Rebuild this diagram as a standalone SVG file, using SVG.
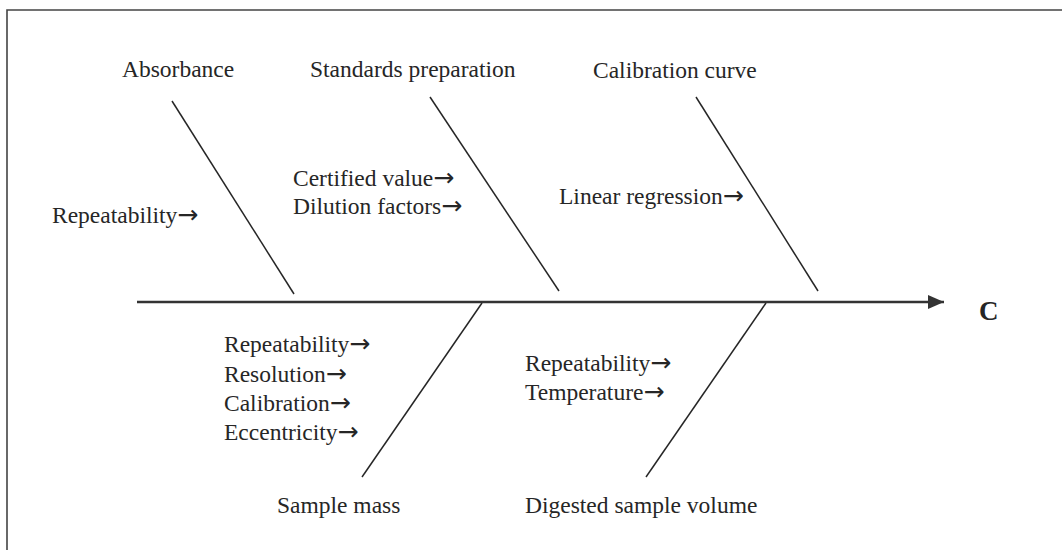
<svg xmlns="http://www.w3.org/2000/svg" width="1062" height="550" viewBox="0 0 1062 550">
<style>
text{font-family:"Liberation Serif","Times New Roman",serif;font-size:23.5px;fill:#262626}
tspan.ar{font-family:"DejaVu Sans",sans-serif;font-size:25px}
.bone{stroke:#262626;stroke-width:1.5;fill:none}
.spine{stroke:#333;stroke-width:2.6;fill:none}
.frame{stroke:#444;stroke-width:1.6;fill:none}
.eff{font-weight:bold;font-size:27px}
</style>
<defs>
<marker id="ah" markerUnits="userSpaceOnUse" markerWidth="18" markerHeight="14" refX="16" refY="7" orient="auto">
<path d="M0,0 L16,7 L0,14 Z" fill="#333"/>
</marker>
</defs>
<rect width="1062" height="550" fill="#fff"/>
<path class="frame" d="M7,550 V10 H1062"/>
<g id="connectors">
<line class="spine" x1="137" y1="302" x2="944" y2="302" marker-end="url(#ah)"/>
<line class="bone" x1="172" y1="101" x2="294" y2="294"/>
<line class="bone" x1="430" y1="97" x2="559" y2="291"/>
<line class="bone" x1="696" y1="97" x2="818" y2="291"/>
<line class="bone" x1="482" y1="303" x2="362" y2="477"/>
<line class="bone" x1="766" y1="303" x2="646" y2="477"/>
</g>
<g id="absorbance">
<text x="122" y="77">Absorbance</text>
<text x="52" y="223">Repeatability<tspan class="ar">→</tspan></text>
</g>
<g id="standards">
<text x="310" y="77">Standards preparation</text>
<text x="293" y="186">Certified value<tspan class="ar">→</tspan></text>
<text x="293" y="214">Dilution factors<tspan class="ar">→</tspan></text>
</g>
<g id="calibration">
<text x="593" y="78">Calibration curve</text>
<text x="559" y="204">Linear regression<tspan class="ar">→</tspan></text>
</g>
<g id="samplemass">
<text x="224" y="352">Repeatability<tspan class="ar">→</tspan></text>
<text x="224" y="382">Resolution<tspan class="ar">→</tspan></text>
<text x="224" y="411">Calibration<tspan class="ar">→</tspan></text>
<text x="224" y="440">Eccentricity<tspan class="ar">→</tspan></text>
<text x="277" y="513">Sample mass</text>
</g>
<g id="digested">
<text x="525" y="371">Repeatability<tspan class="ar">→</tspan></text>
<text x="525" y="400">Temperature<tspan class="ar">→</tspan></text>
<text x="525" y="513">Digested sample volume</text>
</g>
<g id="effect">
<text class="eff" x="979" y="320">C</text>
</g>
</svg>
